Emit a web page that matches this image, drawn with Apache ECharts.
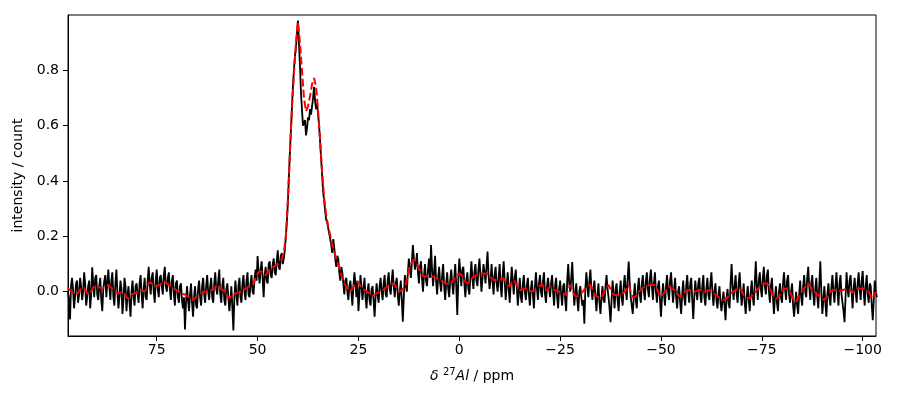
<!DOCTYPE html>
<html>
<head>
<meta charset="utf-8">
<script src="https://cdn.jsdelivr.net/npm/echarts@6/dist/echarts.min.js"></script>
<style>
html, body { margin:0; padding:0; background:#fff; }
#container { width:900px; height:400px; }
</style>
</head>
<body>
<div id="container"></div>
<script type="text/javascript">
// both traces start at 97 ppm and run downwards
var ppmStart = 97;
var dataStep = -0.25;
var fitStep = -0.5;

// measured spectrum (black), one value every 0.25 ppm
var intensity = [
	0.0, -0.03, -0.1, 0.02, 0.05, 0.01, -0.06, -0.02, 0.03, 0.04, -0.04, -0.01, 0.05, 0.02, -0.03, 0.0, 0.07, 0.03, -0.05, -0.02,
	0.02, 0.04, -0.06, -0.01, 0.088, 0.03, -0.02, 0.05, 0.06, -0.01, -0.03, 0.02, 0.05, -0.03, -0.07, 0.01, 0.04, 0.06, -0.02, 0.03,
	0.08, 0.02, -0.03, 0.04, 0.07, -0.02, -0.05, 0.03, 0.08, 0.0, -0.06, -0.02, 0.04, 0.01, -0.08, -0.03, 0.05, 0.02, -0.07, -0.01,
	0.02, -0.04, -0.09, 0.0, 0.04, -0.02, -0.05, 0.02, 0.03, -0.01, -0.04, 0.03, 0.06, -0.01, -0.06, 0.01, 0.05, -0.02, -0.03, 0.04,
	0.09, 0.03, -0.01, 0.05, 0.07, 0.0, -0.04, 0.04, 0.08, 0.01, -0.02, 0.05, 0.06, 0.02, -0.01, 0.06, 0.09, 0.02, 0.0, 0.05,
	0.07, 0.01, -0.03, 0.04, 0.06, -0.01, -0.05, 0.03, 0.04, -0.02, -0.04, 0.02, 0.03, -0.03, -0.06, -0.02, -0.136, -0.04, 0.02, -0.03,
	-0.07, -0.01, 0.03, -0.04, -0.09, -0.02, 0.02, -0.05, -0.06, 0.01, 0.04, -0.02, -0.05, 0.02, 0.05, -0.01, -0.04, 0.02, 0.06, 0.0,
	-0.03, 0.02, 0.05, -0.02, -0.04, 0.03, 0.07, 0.01, -0.01, 0.04, 0.08, -0.01, -0.04, 0.02, 0.05, -0.03, -0.05, 0.01, 0.03, -0.02,
	-0.07, -0.03, 0.02, -0.06, -0.14, -0.02, 0.04, -0.01, -0.05, 0.02, 0.05, -0.02, -0.04, 0.03, 0.06, 0.0, -0.03, 0.04, 0.07, -0.01,
	-0.02, 0.03, 0.06, 0.0, -0.01, 0.05, 0.08, 0.04, 0.129, 0.07, 0.03, 0.08, 0.11, 0.05, -0.02, 0.06, 0.09, 0.04, 0.03, 0.1,
	0.11, 0.06, 0.05, 0.1, 0.12, 0.07, 0.06, 0.11, 0.15, 0.09, 0.08, 0.13, 0.14, 0.1, 0.12, 0.15, 0.2, 0.25, 0.32, 0.41,
	0.5, 0.58, 0.66, 0.74, 0.8, 0.85, 0.88, 0.93, 0.98, 0.9, 0.82, 0.72, 0.66, 0.6, 0.61, 0.62, 0.565, 0.59, 0.63, 0.62,
	0.66, 0.64, 0.67, 0.7, 0.74, 0.69, 0.66, 0.68, 0.64, 0.6, 0.54, 0.48, 0.42, 0.36, 0.33, 0.29, 0.26, 0.25, 0.23, 0.21,
	0.21, 0.17, 0.14, 0.19, 0.16, 0.12, 0.09, 0.13, 0.12, 0.07, 0.04, 0.09, 0.07, 0.03, -0.01, 0.04, 0.05, 0.0, -0.03, 0.02,
	0.04, 0.0, -0.05, 0.02, 0.07, 0.03, -0.02, 0.04, -0.07, -0.01, 0.06, 0.02, -0.03, 0.01, 0.05, -0.02, -0.06, 0.0, 0.03, -0.03,
	-0.05, 0.01, 0.02, -0.03, -0.09, -0.02, 0.03, -0.01, -0.04, 0.02, 0.05, 0.0, -0.03, 0.03, 0.06, -0.01, -0.02, 0.04, 0.07, 0.01,
	-0.01, 0.04, 0.08, 0.02, -0.02, 0.03, 0.05, -0.01, -0.05, 0.0, 0.04, -0.03, -0.108, -0.02, 0.06, 0.03, 0.0, 0.07, 0.12, 0.08,
	0.05, 0.11, 0.169, 0.12, 0.08, 0.1, 0.14, 0.07, 0.03, 0.09, 0.11, 0.05, 0.0, 0.06, 0.1, 0.04, 0.02, 0.08, 0.12, 0.05,
	0.169, 0.08, 0.02, 0.07, 0.13, 0.04, -0.01, 0.05, 0.09, 0.03, 0.0, 0.06, 0.1, 0.02, -0.03, 0.03, 0.07, 0.01, -0.02, 0.04,
	0.08, 0.03, -0.01, 0.05, 0.1, 0.02, -0.084, 0.04, 0.12, 0.07, 0.02, 0.08, 0.09, 0.03, -0.02, 0.04, 0.07, 0.01, -0.01, 0.05,
	0.11, 0.05, 0.01, 0.07, 0.1, 0.04, 0.02, 0.08, 0.12, 0.06, 0.0, 0.05, 0.1, 0.07, 0.03, 0.09, 0.145, 0.06, 0.01, 0.04,
	0.1, 0.04, -0.01, 0.06, 0.09, 0.03, 0.0, 0.05, 0.1, 0.02, -0.02, 0.06, 0.11, 0.04, -0.03, 0.02, 0.07, 0.01, -0.04, 0.03,
	0.09, 0.04, -0.01, 0.05, 0.08, 0.02, -0.05, 0.0, 0.05, -0.02, -0.04, 0.03, 0.06, 0.0, -0.03, 0.02, 0.05, -0.01, -0.05, 0.01,
	0.04, -0.01, -0.06, 0.02, 0.07, 0.01, -0.03, 0.03, 0.06, 0.0, -0.02, 0.04, 0.07, -0.01, -0.04, 0.02, 0.05, 0.01, -0.02, 0.03,
	0.06, 0.0, -0.05, 0.02, 0.05, -0.02, -0.06, 0.01, 0.04, -0.01, -0.05, 0.02, 0.03, -0.03, -0.07, 0.04, 0.1, 0.03, 0.0, 0.05,
	0.107, 0.02, -0.05, -0.01, 0.03, -0.03, -0.07, 0.0, 0.02, -0.02, -0.05, -0.03, -0.116, 0.01, 0.07, 0.02, -0.02, 0.04, 0.08, 0.01,
	-0.03, 0.01, 0.04, -0.02, -0.07, -0.01, 0.03, -0.04, -0.08, -0.02, 0.02, -0.03, -0.04, 0.02, 0.06, 0.01, -0.02, -0.06, -0.11, -0.03,
	0.04, -0.01, -0.06, 0.01, 0.03, -0.03, -0.07, 0.0, 0.04, -0.02, -0.05, 0.02, 0.06, 0.01, -0.03, 0.05, 0.109, 0.03, -0.02, -0.05,
	-0.08, -0.02, 0.03, -0.03, -0.06, 0.01, 0.05, -0.01, -0.04, 0.03, 0.06, 0.0, -0.03, 0.04, 0.07, 0.01, -0.02, 0.05, 0.08, 0.02,
	-0.03, 0.03, 0.07, 0.0, -0.04, 0.02, 0.04, -0.03, -0.09, -0.02, 0.03, -0.01, -0.05, 0.02, 0.06, 0.0, -0.03, 0.04, 0.07, 0.01,
	-0.04, 0.01, 0.05, -0.02, -0.06, 0.0, 0.02, -0.04, -0.08, -0.01, 0.04, -0.02, -0.05, 0.02, 0.06, 0.0, -0.04, 0.03, 0.05, -0.03,
	-0.098, -0.02, 0.04, 0.0, -0.03, 0.03, 0.05, -0.01, -0.04, 0.02, 0.06, -0.02, -0.05, 0.01, 0.05, -0.01, -0.03, 0.03, 0.07, 0.0,
	-0.05, 0.0, 0.03, -0.03, -0.06, -0.01, 0.02, -0.04, -0.07, -0.03, 0.0, -0.05, -0.103, -0.02, 0.01, -0.04, -0.06, 0.03, 0.1, 0.02,
	-0.03, 0.02, 0.06, -0.01, -0.04, 0.03, 0.07, 0.0, -0.05, -0.01, 0.03, -0.04, -0.08, -0.02, 0.02, -0.03, -0.07, 0.0, 0.04, -0.02,
	-0.05, 0.03, 0.11, 0.02, -0.03, 0.04, 0.07, 0.01, -0.02, 0.05, 0.09, 0.02, -0.01, 0.06, 0.08, 0.0, -0.04, 0.02, 0.05, -0.02,
	-0.08, -0.02, 0.02, -0.04, -0.07, 0.0, 0.03, -0.02, -0.04, 0.03, 0.07, 0.01, -0.03, 0.04, 0.06, -0.01, -0.04, 0.0, 0.03, -0.05,
	-0.09, -0.04, 0.0, -0.05, -0.08, -0.01, 0.04, -0.02, -0.05, 0.02, 0.06, 0.0, -0.02, 0.05, 0.09, 0.02, -0.03, 0.03, 0.06, -0.01,
	-0.05, 0.01, 0.05, -0.02, -0.06, 0.03, 0.11, 0.0, -0.08, -0.03, 0.02, -0.04, -0.09, -0.01, 0.03, -0.02, -0.05, 0.02, 0.06, 0.0,
	-0.04, 0.02, 0.07, 0.0, -0.05, 0.03, 0.06, -0.01, -0.04, -0.07, -0.11, -0.02, 0.07, 0.01, -0.02, 0.04, 0.06, 0.0, -0.06, 0.01,
	0.05, 0.0, -0.04, 0.03, 0.07, 0.01, -0.03, 0.04, 0.075, 0.0, -0.05, 0.02, 0.06, -0.01, -0.04, 0.03, 0.02, -0.05, -0.103, -0.03,
	0.04, 0.0, -0.02
];

// fitted model (red dashed), one value every 0.5 ppm
var fitted = [
	0.012, 0.006, 0.0, -0.008, -0.012, -0.004, 0.008, 0.016, 0.012, 0.0,
	-0.01, -0.004, 0.008, 0.018, 0.024, 0.02, 0.014, 0.012, 0.016, 0.022,
	0.024, 0.018, 0.008, 0.002, -0.002, -0.006, -0.004, 0.0, -0.004, -0.02,
	-0.024, -0.016, -0.008, -0.006, -0.004, 0.002, 0.006, 0.004, 0.0, 0.012,
	0.03, 0.034, 0.026, 0.018, 0.02, 0.024, 0.026, 0.032, 0.036, 0.03,
	0.024, 0.02, 0.018, 0.01, 0.004, 0.0, -0.004, -0.008, -0.01, -0.016,
	-0.02, -0.026, -0.03, -0.022, -0.014, -0.008, -0.006, -0.002, 0.0, 0.002,
	0.004, 0.006, 0.008, 0.016, 0.024, 0.018, 0.01, 0.004, 0.0, -0.016,
	-0.024, -0.016, -0.01, -0.006, -0.004, -0.002, 0.0, 0.006, 0.01, 0.016,
	0.022, 0.02, 0.03, 0.05, 0.065, 0.074, 0.072, 0.064, 0.06, 0.07,
	0.08, 0.086, 0.09, 0.096, 0.1, 0.108, 0.118, 0.14, 0.2, 0.33,
	0.5, 0.66, 0.785, 0.9, 0.975, 0.9, 0.8, 0.7, 0.652, 0.67,
	0.706, 0.75, 0.772, 0.74, 0.652, 0.55, 0.434, 0.34, 0.278, 0.236,
	0.205, 0.17, 0.145, 0.118, 0.097, 0.07, 0.048, 0.03, 0.018, 0.008,
	0.0, 0.012, 0.024, 0.03, 0.036, 0.02, 0.01, 0.006, 0.002, -0.004,
	-0.008, -0.012, -0.01, -0.006, -0.002, 0.0, 0.004, 0.01, 0.018, 0.022,
	0.026, 0.03, 0.026, 0.012, 0.0, 0.004, 0.01, 0.014, 0.045, 0.08,
	0.1, 0.114, 0.115, 0.1, 0.083, 0.07, 0.058, 0.054, 0.056, 0.06,
	0.058, 0.054, 0.05, 0.048, 0.044, 0.04, 0.036, 0.032, 0.028, 0.024,
	0.03, 0.04, 0.05, 0.06, 0.066, 0.062, 0.05, 0.036, 0.03, 0.036,
	0.046, 0.054, 0.058, 0.062, 0.066, 0.066, 0.066, 0.066, 0.064, 0.056,
	0.048, 0.042, 0.042, 0.042, 0.044, 0.046, 0.048, 0.036, 0.022, 0.02,
	0.032, 0.042, 0.03, 0.016, 0.006, 0.008, 0.01, 0.012, 0.008, 0.004,
	0.0, 0.004, 0.01, 0.014, 0.022, 0.028, 0.016, 0.006, 0.008, 0.02,
	0.012, 0.006, 0.004, 0.0, 0.0, -0.004, -0.008, -0.012, 0.006, 0.024,
	0.008, -0.012, -0.018, -0.016, -0.012, -0.002, 0.008, 0.016, 0.022, 0.024,
	0.01, -0.01, -0.016, -0.02, -0.024, -0.014, 0.002, 0.014, 0.024, 0.01,
	-0.006, -0.012, -0.012, -0.012, -0.012, -0.006, 0.0, 0.012, 0.024, 0.0,
	-0.02, -0.02, -0.01, 0.0, 0.006, 0.014, 0.018, 0.02, 0.024, 0.024,
	0.024, 0.024, 0.01, -0.01, -0.018, -0.008, 0.0, 0.01, 0.018, 0.014,
	0.008, 0.006, -0.006, -0.016, -0.018, -0.006, 0.0, 0.004, 0.006, 0.006,
	0.002, 0.0, 0.004, 0.006, 0.006, 0.002, 0.0, 0.004, 0.006, 0.0,
	-0.006, -0.01, -0.016, -0.022, -0.026, -0.03, -0.028, -0.02, -0.012, -0.004,
	0.002, 0.006, 0.01, 0.012, 0.004, -0.012, -0.018, -0.022, -0.024, -0.016,
	-0.004, 0.0, 0.01, 0.018, 0.024, 0.03, 0.03, 0.026, 0.012, -0.006,
	-0.018, -0.026, -0.02, -0.01, 0.006, 0.01, 0.012, 0.006, 0.0, -0.02,
	-0.032, -0.036, -0.02, -0.006, 0.004, 0.012, 0.022, 0.03, 0.02, 0.004,
	0.0, -0.006, -0.012, -0.02, -0.026, -0.03, -0.02, -0.008, 0.0, 0.004,
	0.006, 0.004, 0.0, 0.004, 0.006, 0.008, 0.01, 0.012, 0.006, -0.004,
	0.002, 0.01, 0.012, 0.012, 0.012, 0.008, 0.004, 0.0, -0.016, -0.024,
	-0.006, 0.0
];

var xTicks = [75, 50, 25, 0, -25, -50, -75, -100];
var yTicks = [0, 0.2, 0.4, 0.6, 0.8];

function pairs(arr, step) {
	var out = [];
	for (var i = 0; i < arr.length; i++) {
		out.push([ppmStart + i * step, arr[i]]);
	}
	return out;
}

var font = 'DejaVu Sans';
var myChart = echarts.init(document.getElementById('container'));
var option = {
	animation: false,
	grid: {
		left: 68, right: 24, top: 15, bottom: 64,
		show: true, borderColor: '#000', borderWidth: 1, backgroundColor: 'transparent'
	},
	xAxis: {
		type: 'value',
		inverse: true,
		min: -103.3,
		max: 97,
		splitLine: { show: false },
		axisLine: { show: true, onZero: false, lineStyle: { color: '#000', width: 1 } },
		axisTick: { show: true, length: 5, lineStyle: { color: '#000', width: 1 }, customValues: xTicks },
		axisLabel: {
			customValues: xTicks,
			margin: 7,
			color: '#000', fontFamily: font, fontSize: 14,
			formatter: function (v) { return v < 0 ? '\u2212' + (-v) : String(v); }
		},
		name: '{i|δ} {s|27}{i|Al} / ppm',
		nameLocation: 'middle',
		nameGap: 31,
		nameTextStyle: {
			color: '#000', fontFamily: font, fontSize: 14,
			rich: {
				i: { fontStyle: 'italic', fontFamily: font, fontSize: 14, color: '#000' },
				s: { fontFamily: font, fontSize: 10, color: '#000', verticalAlign: 'bottom', padding: [0, 0, 8, 0] }
			}
		}
	},
	yAxis: {
		type: 'value',
		min: -0.16,
		max: 1.0,
		splitLine: { show: false },
		axisLine: { show: true, onZero: false, lineStyle: { color: '#000', width: 1 } },
		axisTick: { show: true, length: 5, lineStyle: { color: '#000', width: 1 }, customValues: yTicks },
		axisLabel: {
			customValues: yTicks,
			margin: 9,
			color: '#000', fontFamily: font, fontSize: 14,
			formatter: function (v) { return v.toFixed(1); }
		},
		name: 'intensity / count',
		nameLocation: 'middle',
		nameGap: 36,
		nameTextStyle: { color: '#000', fontFamily: font, fontSize: 14 }
	},
	series: [
		{
			name: 'data',
			type: 'line',
			data: pairs(intensity, dataStep),
			symbol: 'none',
			lineStyle: { color: '#000', width: 1.8 },
			z: 2
		},
		{
			name: 'fit',
			type: 'line',
			data: pairs(fitted, fitStep),
			symbol: 'none',
			lineStyle: { color: '#ff0000', width: 2, type: [7.7, 3.3] },
			z: 3
		}
	]
};
myChart.setOption(option);
</script>
</body>
</html>
